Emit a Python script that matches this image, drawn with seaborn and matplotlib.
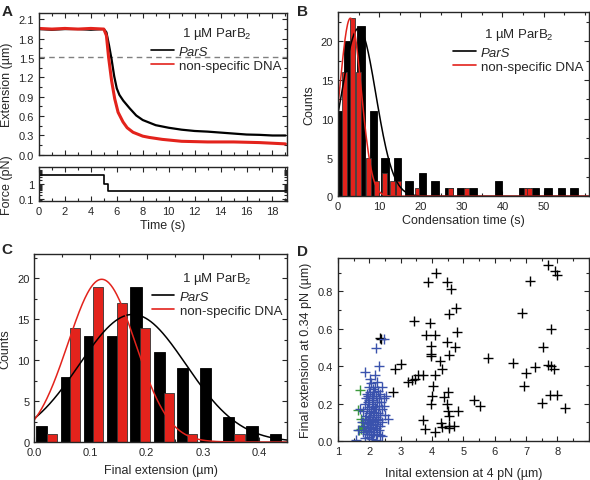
import numpy as np
import matplotlib
matplotlib.use("Agg")
import matplotlib.pyplot as plt
import seaborn as sns
from matplotlib.lines import Line2D
from matplotlib.ticker import MultipleLocator, FixedLocator, FixedFormatter, NullFormatter

sns.set_style("ticks")
plt.rcParams["font.family"] = ["Liberation Sans", "DejaVu Sans"]
plt.rcParams["mathtext.fontset"] = "custom"
plt.rcParams["mathtext.rm"] = "Liberation Sans"
plt.rcParams["mathtext.it"] = "Liberation Sans:italic"

RED = "#e3231c"
BLUE = "#3a52ad"
GREEN = "#3c9a3c"

# ============================================
# DATA
# ============================================

# panel A - extension traces
t_pars = [0, 1, 2, 3, 4, 5.0, 5.2, 5.4, 5.6, 5.8, 6.0, 6.2, 6.5, 7.0, 7.5, 8.0, 8.5, 9.0,
          10, 11, 12, 13, 14, 15, 16, 17, 18, 19]
ext_pars = [1.95, 1.94, 1.95, 1.95, 1.94, 1.95, 1.90, 1.70, 1.48, 1.22, 1.03, 0.93, 0.84, 0.72,
            0.61, 0.54, 0.50, 0.46, 0.42, 0.39, 0.37, 0.36, 0.345, 0.33, 0.315, 0.31, 0.30, 0.30]
t_ns = [0, 1, 2, 3, 4, 5.0, 5.2, 5.37, 5.6, 5.84, 6.1, 6.48, 6.8, 7.25, 8.0, 8.5, 9.5,
        11, 13, 15, 17, 19]
ext_ns = [1.96, 1.95, 1.96, 1.95, 1.96, 1.95, 1.85, 1.51, 1.15, 0.87, 0.66, 0.51, 0.42, 0.35,
          0.29, 0.27, 0.24, 0.21, 0.20, 0.20, 0.19, 0.17]
threshold = 1.52
t_force = [0, 5.0, 5.3, 19.1]
force = [4.0, 1.0, 0.34, 0.34]

# panel B - condensation time histograms
b_pars_t = [0.05, 2.4, 5.6, 8.6, 11.4, 14.4, 17.3, 20.5, 23.6, 27.0, 29.9, 32.8, 39.0,
            45.0, 47.9, 51.1, 54.3, 57.4]
b_pars_n = [11, 20, 22, 11, 5, 5, 2, 3, 2, 1, 1, 1, 2, 1, 1, 1, 1, 1]
b_ns_t = [1.5, 3.5, 5.0, 7.3, 9.4, 11.3, 13.3, 14.8, 19.2, 27.3, 31.3, 45.8, 46.6]
b_ns_n = [16, 23, 16, 5, 2, 3, 2, 2, 1, 1, 1, 1, 1]
b_fit_pars = (21.7, 5.0, 4.2)   # amplitude, centre, sigma
b_fit_ns = (23.0, 3.0, 2.6)

# panel C - final extension histograms
c_pars_x = [0.013, 0.0575, 0.098, 0.139, 0.181, 0.2225, 0.2635, 0.305, 0.345, 0.387, 0.4285]
c_pars_n = [2, 8, 13, 13, 19, 11, 9, 9, 3, 2, 1]
c_ns_x = [0.031, 0.072, 0.114, 0.156, 0.197, 0.240, 0.281, 0.365]
c_ns_n = [1, 14, 19, 17, 14, 6, 1, 1]
c_fit_pars = (15.6, 0.175, 0.095)
c_fit_ns = (19.9, 0.120, 0.060)

# panel D - scatter
d_black_x = [7.70, 7.91, 7.98, 7.12, 6.88, 7.78, 7.55, 5.78, 6.58, 7.28, 7.71, 7.78, 7.89,
             6.99, 6.93, 7.76, 7.98, 7.52, 8.23, 5.33, 5.53,
             2.33, 2.38, 2.75, 2.81, 3.02, 3.24, 3.36, 3.47, 3.56, 3.70, 3.42, 3.72, 3.77,
             3.86, 4.11, 4.48, 4.59, 4.75, 4.54, 4.78, 4.73, 4.48, 4.54, 3.94, 3.79, 4.09,
             3.98, 3.98, 3.95, 4.24, 4.32, 4.09, 4.02, 4.51, 4.00, 4.38, 3.95, 4.48, 4.51,
             4.83, 4.54, 4.27, 4.32, 4.54, 4.70, 4.09, 4.54]
d_black_y = [0.940, 0.911, 0.890, 0.857, 0.687, 0.599, 0.504, 0.445, 0.418, 0.396, 0.409,
             0.402, 0.384, 0.366, 0.292, 0.248, 0.248, 0.204, 0.176, 0.217, 0.190,
             0.553, 0.545, 0.262, 0.384, 0.414, 0.316, 0.325, 0.334, 0.352, 0.355, 0.642,
             0.113, 0.065, 0.848, 0.899, 0.848, 0.814, 0.710, 0.678, 0.581, 0.504, 0.527,
             0.459, 0.630, 0.567, 0.567, 0.509, 0.468, 0.456, 0.427, 0.387, 0.355, 0.292,
             0.262, 0.240, 0.235, 0.199, 0.196, 0.163, 0.163, 0.136, 0.095, 0.074, 0.083,
             0.083, 0.050, 0.068]
d_blue_x = [2.20, 2.45, 2.31, 1.85, 2.17, 2.23, 2.12, 2.39, 2.05, 1.98,
            2.28, 2.15, 2.02, 1.92, 2.35, 2.22, 2.08, 1.88, 2.30, 2.45,
            2.00, 2.13, 2.25, 1.95, 2.38, 2.07, 1.85, 2.18, 2.30, 2.00,
            2.10, 1.93, 2.22, 2.40, 2.05, 1.78, 2.15, 2.28, 1.98, 2.50,
            2.10, 2.35, 1.90, 2.20, 2.03, 2.60, 2.12, 1.85, 2.27, 1.97,
            2.08, 2.18, 2.40, 1.92, 2.02, 2.25, 2.13, 1.82, 2.33, 2.06,
            1.96, 2.20, 2.10, 1.88, 2.30, 2.00, 2.15, 1.80, 2.05, 2.25,
            1.93, 2.12, 2.40, 2.00, 1.87, 2.08, 1.57, 2.20, 1.70, 1.62,
            2.02, 2.18, 1.97, 2.45, 2.52, 2.10, 2.27, 1.75, 2.35, 2.00]
d_blue_y = [0.495, 0.545, 0.402, 0.370, 0.352, 0.316, 0.280, 0.289, 0.31, 0.29,
            0.27, 0.26, 0.26, 0.25, 0.25, 0.24, 0.24, 0.23, 0.23, 0.23,
            0.22, 0.22, 0.21, 0.21, 0.21, 0.20, 0.20, 0.19, 0.19, 0.18,
            0.18, 0.17, 0.17, 0.17, 0.16, 0.16, 0.155, 0.15, 0.15, 0.14,
            0.14, 0.14, 0.135, 0.13, 0.13, 0.12, 0.12, 0.12, 0.115, 0.11,
            0.105, 0.10, 0.10, 0.095, 0.09, 0.09, 0.085, 0.08, 0.08, 0.075,
            0.07, 0.07, 0.065, 0.06, 0.06, 0.055, 0.05, 0.05, 0.04, 0.04,
            0.035, 0.03, 0.025, 0.02, 0.015, 0.01, 0.005, 0.005, 0.17, 0.06,
            0.33, 0.29, 0.24, 0.19, 0.24, 0.23, 0.12, 0.10, 0.03, 0.12]
d_green_x = [1.69, 1.64, 1.72, 1.80, 1.74, 1.66, 1.78, 1.83]
d_green_y = [0.275, 0.165, 0.12, 0.075, 0.066, 0.06, 0.10, 0.07]


def gauss(x, amp, mu, sig):
    return amp * np.exp(-(x - mu) ** 2 / (2 * sig ** 2))


def origin_ticks(ax):
    ax.tick_params(which="both", direction="in", top=True, right=True, labelsize=8, width=0.8)
    ax.tick_params(which="major", length=3.5)
    ax.tick_params(which="minor", length=2)
    for s in ax.spines.values():
        s.set_linewidth(1.0)


def add_legend(ax, anchor):
    handles = [Line2D([], [], color="black", lw=1.2), Line2D([], [], color=RED, lw=1.2)]
    leg = ax.legend(handles, ["ParS", "non-specific DNA"], title="1 µM ParB$_2$",
                    frameon=False, fontsize=9.5, title_fontsize=9.5, handlelength=1.7,
                    handletextpad=0.4, labelspacing=0.15, loc="upper right",
                    bbox_to_anchor=anchor, borderaxespad=0)
    leg.get_texts()[0].set_style("italic")
    leg._legend_box.sep = 3


fig = plt.figure(figsize=(5.9, 4.81), dpi=100)

# ============================================
# PANEL A
# ============================================

axA = fig.add_axes([0.066, 0.676, 0.420, 0.295])
axF = fig.add_axes([0.066, 0.580, 0.420, 0.071])

axA.axhline(threshold, color="grey", lw=1, ls=(0, (4, 3)))
sns.lineplot(x=t_pars, y=ext_pars, ax=axA, color="black", lw=1.6, sort=False)
sns.lineplot(x=t_ns, y=ext_ns, ax=axA, color=RED, lw=2.2, sort=False)
axA.set_xlim(0, 19.1)
axA.set_ylim(0, 2.2)
axA.yaxis.set_major_locator(MultipleLocator(0.3))
axA.yaxis.set_minor_locator(MultipleLocator(0.15))
axA.xaxis.set_major_locator(MultipleLocator(2))
axA.xaxis.set_minor_locator(MultipleLocator(1))
axA.yaxis.set_major_formatter(matplotlib.ticker.FormatStrFormatter("%.1f"))
axA.set_ylabel("Extension (µm)", fontsize=9)
origin_ticks(axA)
axA.tick_params(labelbottom=False)
add_legend(axA, (1.0, 0.95))

axF.plot(t_force, force, color="black", lw=1.2, drawstyle="steps-post")
axF.set_yscale("log")
axF.set_xlim(0, 19.1)
axF.set_ylim(0.075, 15)
axF.yaxis.set_major_locator(FixedLocator([0.1, 1]))
axF.yaxis.set_major_formatter(FixedFormatter(["0.1", "1"]))
axF.yaxis.set_minor_formatter(NullFormatter())
axF.xaxis.set_major_locator(MultipleLocator(2))
axF.xaxis.set_minor_locator(MultipleLocator(1))
axF.set_xlabel("Time (s)", fontsize=9, labelpad=2)
axF.set_ylabel("Force (pN)", fontsize=9)
origin_ticks(axF)

# ============================================
# PANEL B
# ============================================

axB = fig.add_axes([0.573, 0.590, 0.425, 0.383])
axB.bar(b_pars_t, b_pars_n, width=1.8, color="black", edgecolor="black", lw=0.6)
axB.bar(b_ns_t, b_ns_n, width=1.2, color=RED, edgecolor="#333333", lw=0.6)
tb = np.linspace(0, 61, 400)
sns.lineplot(x=tb, y=gauss(tb, *b_fit_pars), ax=axB, color="black", lw=1.1)
sns.lineplot(x=tb, y=gauss(tb, *b_fit_ns), ax=axB, color=RED, lw=1.1)
axB.set_xlim(0, 61)
axB.set_ylim(0, 23.8)
axB.xaxis.set_major_locator(FixedLocator([0, 10, 20, 30, 40, 50]))
axB.xaxis.set_minor_locator(MultipleLocator(5))
axB.yaxis.set_major_locator(MultipleLocator(5))
axB.yaxis.set_minor_locator(MultipleLocator(2.5))
axB.set_xlabel("Condensation time (s)", fontsize=9, labelpad=2)
axB.set_ylabel("Counts", fontsize=9)
origin_ticks(axB)
add_legend(axB, (1.0, 0.95))

# ============================================
# PANEL C
# ============================================

axC = fig.add_axes([0.058, 0.079, 0.429, 0.391])
axC.bar(c_pars_x, c_pars_n, width=0.02, color="black", edgecolor="black", lw=0.6)
axC.bar(c_ns_x, c_ns_n, width=0.018, color=RED, edgecolor="#333333", lw=0.6)
xc = np.linspace(0, 0.45, 400)
sns.lineplot(x=xc, y=gauss(xc, *c_fit_pars), ax=axC, color="black", lw=1.1)
sns.lineplot(x=xc, y=gauss(xc, *c_fit_ns), ax=axC, color=RED, lw=1.1)
axC.set_xlim(0, 0.45)
axC.set_ylim(0, 23)
axC.xaxis.set_major_locator(MultipleLocator(0.1))
axC.xaxis.set_minor_locator(MultipleLocator(0.05))
axC.xaxis.set_major_formatter(matplotlib.ticker.FormatStrFormatter("%.1f"))
axC.yaxis.set_major_locator(MultipleLocator(5))
axC.yaxis.set_minor_locator(MultipleLocator(2.5))
axC.set_xlabel("Final extension (µm)", fontsize=9, labelpad=5)
axC.set_ylabel("Counts", fontsize=9)
origin_ticks(axC)
add_legend(axC, (1.0, 0.94))

# ============================================
# PANEL D
# ============================================

axD = fig.add_axes([0.573, 0.081, 0.425, 0.381])
kw = dict(marker="+", s=60, linewidth=1.0, ax=axD, legend=False)
sns.scatterplot(x=d_black_x, y=d_black_y, color="black", **kw)
sns.scatterplot(x=d_green_x, y=d_green_y, color=GREEN, **kw)
sns.scatterplot(x=d_blue_x, y=d_blue_y, color=BLUE, **kw)
axD.set_xlim(1, 9)
axD.set_ylim(0, 0.98)
axD.xaxis.set_major_locator(FixedLocator([1, 2, 3, 4, 5, 6, 7, 8]))
axD.xaxis.set_minor_locator(MultipleLocator(0.5))
axD.yaxis.set_major_locator(MultipleLocator(0.2))
axD.yaxis.set_minor_locator(MultipleLocator(0.1))
axD.yaxis.set_major_formatter(matplotlib.ticker.FormatStrFormatter("%.1f"))
axD.set_xlabel("Inital extension at 4 pN (µm)", fontsize=9, labelpad=8)
axD.set_ylabel("Final extension at 0.34 pN (µm)", fontsize=9)
origin_ticks(axD)

# panel letters
for lab, x, y in [("A", 0.003, 0.99), ("B", 0.503, 0.99), ("C", 0.003, 0.495), ("D", 0.503, 0.49)]:
    fig.text(x, y, lab, fontsize=11, fontweight="bold", va="top")

fig.align_ylabels([axA, axF])
fig.savefig("out.png", dpi=100)
